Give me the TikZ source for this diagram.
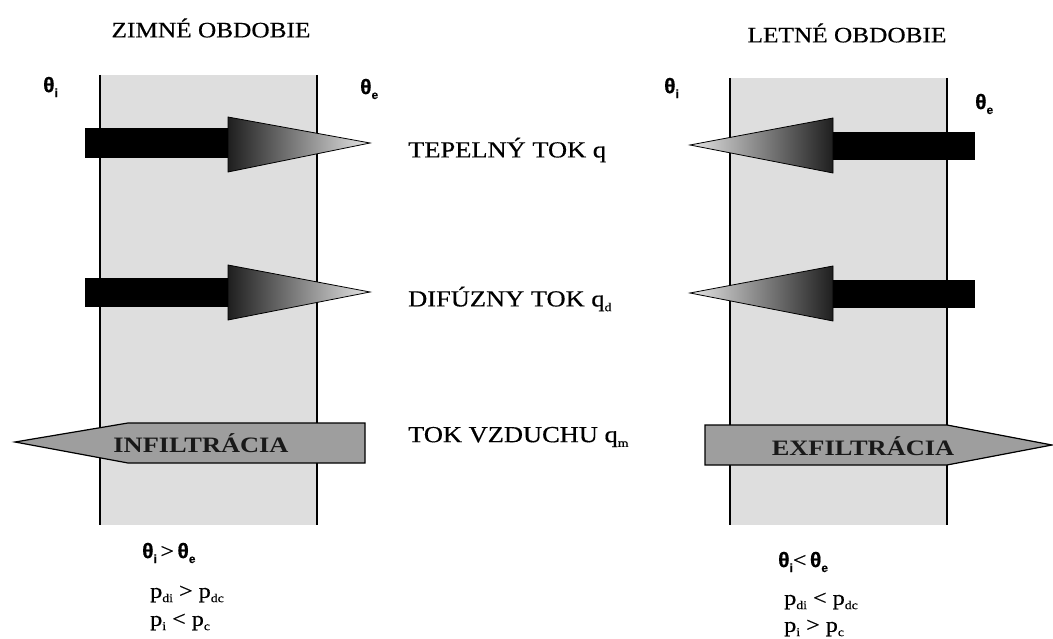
\documentclass[tikz,border=0pt]{standalone}
\usepackage{fontspec}
\setmainfont{Liberation Serif}
\newfontfamily\wserif[FakeStretch=1.15,FakeBold=0.5]{Liberation Serif}
\newfontfamily\airfont[FakeStretch=1.2]{Liberation Serif}
\newfontfamily\wsans[FakeBold=0.8]{Liberation Sans}
\newcommand{\lowsub}[1]{\raisebox{-0.45ex}{\fontsize{12}{12}\selectfont #1}}
\newcommand{\tht}[1]{{\wsans\bfseries θ\lowsub{#1}}}
\tikzset{
  wallfill/.style={fill=black!13},
  wallline/.style={draw=black, line width=2.8pt},
  shaft/.style={fill=black},
  headshade/.style={left color=black!88, right color=black!10, draw=black, line width=0.8pt},
  airarrow/.style={fill=black!38, draw=black, line width=1.2pt},
  lbl/.style={font=\wserif\fontsize{23}{26}\selectfont, inner sep=0pt, anchor=west},
  ttl/.style={font=\wserif\fontsize{22}{25}\selectfont, inner sep=0pt},
  airtxt/.style={font=\airfont\bfseries\fontsize{22}{25}\selectfont, inner sep=0pt, text=black!90},
  thlbl/.style={font=\fontsize{21}{23}\selectfont, inner sep=0pt, anchor=west},
  cond/.style={font=\wserif\fontsize{21}{24}\selectfont, inner sep=0pt, anchor=west}
}
\begin{document}
\begin{tikzpicture}[x=1pt,y=-1pt]
\useasboundingbox[fill=white] (0,0) rectangle (1053,639);

% walls
\fill[wallfill] (100,75) rectangle (317,525);
\draw[wallline] (100,75) -- (100,525);
\draw[wallline] (317,75) -- (317,525);
\fill[wallfill] (730,78) rectangle (947,525);
\draw[wallline] (730,78) -- (730,525);
\draw[wallline] (947,78) -- (947,525);

% left heat arrow
\fill[shaft] (85,128) rectangle (230,158);
\shade[headshade] (228,117) -- (370,143) -- (228,172) -- cycle;
% left diffusion arrow
\fill[shaft] (85,278) rectangle (230,307);
\shade[headshade] (228,265) -- (370,292) -- (228,320) -- cycle;

% right heat arrow
\fill[shaft] (831,132) rectangle (975,160);
\shade[headshade,left color=black!10,right color=black!88] (833,118) -- (690,145) -- (833,173) -- cycle;
% right diffusion arrow
\fill[shaft] (831,280) rectangle (975,308);
\shade[headshade,left color=black!10,right color=black!88] (833,266) -- (690,293) -- (833,321) -- cycle;

% air arrows
\draw[airarrow] (15,442) -- (128,423) -- (365,423) -- (365,463) -- (128,463) -- cycle;
\node[airtxt] (inf) at (201,443) {INFILTRÁCIA};
\draw[airarrow] (705,425) -- (947,425) -- (1052,445) -- (947,465) -- (705,465) -- cycle;
\node[airtxt] (exf) at (863,446) {EXFILTRÁCIA};

% titles
\node[ttl] (t1) at (211,28) {ZIMNÉ OBDOBIE};
\node[ttl] (t2) at (847,33) {LETNÉ OBDOBIE};

% theta labels
\node[thlbl] (ti1) at (43,87) {\tht{i}};
\node[thlbl] (te1) at (360,89) {\tht{e}};
\node[thlbl] (ti2) at (664,88) {\tht{i}};
\node[thlbl] (te2) at (975,104) {\tht{e}};

% middle labels
\node[lbl] (l1) at (408,150) {TEPELNÝ TOK q};
\node[lbl] (l2) at (408,299) {DIFÚZNY TOK q\lowsub{d}};
\node[lbl] (l3) at (408,437) {TOK VZDUCHU q\lowsub{m}};

% conditions winter
\node[thlbl] (c1) at (142,553) {\tht{i}\,{\wserif >}\,\tht{e}};
\node[cond] (c2) at (150,594) {p\lowsub{di} > p\lowsub{dc}};
\node[cond] (c3) at (150,622) {p\lowsub{i} < p\lowsub{c}};
% conditions summer
\node[thlbl] (c4) at (778,562) {\tht{i}{\wserif <}\,\tht{e}};
\node[cond] (c5) at (784,601) {p\lowsub{di} < p\lowsub{dc}};
\node[cond] (c6) at (784,628) {p\lowsub{i} > p\lowsub{c}};
\end{tikzpicture}
\end{document}
